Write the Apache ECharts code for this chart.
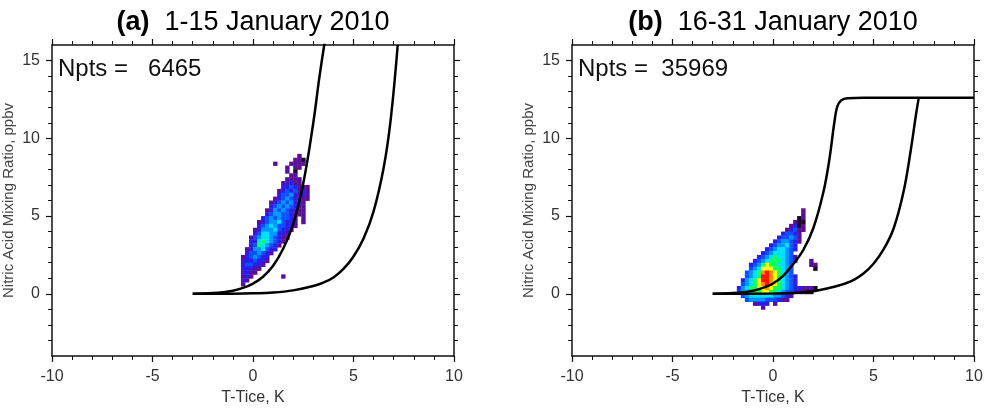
<!DOCTYPE html>
<html>
<head>
<meta charset="utf-8">
<script src="https://cdn.jsdelivr.net/npm/echarts@6/dist/echarts.min.js"></script>
<style>
  html, body { margin: 0; padding: 0; background: #fff; }
  #chart { width: 988px; height: 408px; }
</style>
</head>
<body>
<div id="chart"></div>
<script>
// histogram bin size: K along x, ppbv along y
const binX = 0.2;
const binY = 0.25;

// histogram rows: [row j (y = j*binY), first column k (x = k*binX), colour levels...], 0 = empty cell
const cellsA = [
  [35, 11, [2]],
  [34, 10, [2, 2, 1]],
  [33, 5, [2, 0, 0, 0, 2, 2, 2, 2]],
  [32, 8, [2, 0, 2, 2]],
  [31, 8, [2, 0, 1]],
  [30, 9, [2, 2]],
  [29, 8, [2, 2, 2, 2]],
  [28, 7, [2, 3, 3, 2, 2]],
  [27, 7, [3, 3, 4, 3, 2, 2, 2]],
  [26, 6, [2, 3, 4, 3, 4, 2, 3, 2]],
  [25, 6, [3, 4, 4, 5, 3, 2, 3, 2]],
  [24, 5, [2, 3, 4, 5, 4, 3, 2, 2, 2]],
  [23, 4, [2, 3, 4, 5, 4, 5, 3, 3, 2]],
  [22, 4, [3, 4, 5, 4, 5, 4, 3, 2, 2]],
  [21, 3, [2, 3, 5, 4, 5, 4, 3, 3, 2, 2]],
  [20, 3, [3, 4, 5, 5, 4, 4, 3, 2, 2, 2]],
  [19, 2, [3, 4, 5, 4, 5, 4, 4, 3, 2, 0, 2]],
  [18, 1, [2, 3, 4, 5, 5, 6, 4, 3, 3, 2, 0, 2]],
  [17, 1, [3, 4, 5, 6, 5, 4, 4, 3, 3, 2]],
  [16, 0, [2, 3, 5, 5, 5, 6, 4, 3, 3, 2]],
  [15, 0, [3, 4, 6, 6, 5, 5, 3, 3, 2]],
  [14, -1, [2, 4, 5, 6, 6, 5, 4, 3, 2, 2]],
  [13, -1, [3, 3, 6, 7, 6, 5, 4, 3, 2]],
  [12, -1, [3, 4, 7, 6, 5, 4, 3, 2]],
  [11, -2, [2, 3, 5, 5, 6, 4, 3, 3]],
  [10, -2, [3, 4, 4, 5, 4, 3, 2]],
  [9, -3, [2, 3, 4, 5, 4, 3, 3]],
  [8, -3, [3, 3, 3, 4, 3, 3, 2]],
  [7, -3, [3, 4, 4, 3, 3, 2]],
  [6, -3, [3, 3, 3, 2, 2]],
  [5, -3, [3, 3, 2, 2]],
  [4, -3, [2, 3, 2, 0, 0, 0, 0, 0, 0, 0, 2]],
  [3, -3, [3, 2]],
  [2, -3, [2]]
];

const cellsB = [
  [21, 7, [2]],
  [20, 7, [2]],
  [19, 6, [1, 2]],
  [18, 5, [2, 1, 1]],
  [17, 4, [2, 3, 1, 2]],
  [16, 3, [2, 3, 4, 2, 2]],
  [15, 2, [3, 4, 4, 3, 2]],
  [14, 1, [3, 4, 4, 5, 4, 2]],
  [13, 0, [3, 4, 5, 5, 4, 3, 2]],
  [12, -1, [3, 4, 5, 5, 6, 4, 3]],
  [11, -2, [3, 4, 5, 6, 6, 5, 4, 3]],
  [10, -3, [3, 4, 5, 6, 6, 6, 5, 4]],
  [9, -4, [3, 4, 5, 6, 7, 6, 6, 5, 4, 2]],
  [8, -5, [3, 4, 5, 6, 7, 7, 7, 6, 5, 4, 3, 0, 0, 0, 2]],
  [7, -6, [3, 4, 5, 7, 8, 7, 7, 6, 6, 5, 4, 0, 0, 0, 0, 2, 2]],
  [6, -6, [4, 5, 6, 8, 8, 8, 7, 7, 6, 5, 4, 0, 0, 0, 0, 0, 1]],
  [5, -7, [4, 5, 6, 7, 9, 10, 9, 8, 7, 6, 5, 4]],
  [4, -7, [4, 5, 6, 7, 10, 10, 9, 8, 7, 6, 5, 4, 3]],
  [3, -8, [3, 5, 6, 7, 8, 10, 10, 9, 8, 7, 6, 5, 4, 3]],
  [2, -8, [4, 5, 6, 7, 8, 9, 10, 9, 8, 7, 6, 5, 4, 3]],
  [1, -9, [3, 5, 6, 7, 7, 8, 8, 9, 8, 7, 7, 6, 5, 4, 3, 3, 2, 2, 2, 1]],
  [0, -9, [4, 5, 6, 7, 7, 7, 8, 8, 7, 7, 6, 5, 4, 4, 3, 2, 2, 1, 1]],
  [-1, -8, [4, 5, 6, 6, 6, 6, 6, 6, 5, 5, 4, 3, 2]],
  [-2, -7, [4, 5, 5, 5, 5, 4, 4, 4, 3, 2, 2]],
  [-3, -5, [2, 3, 3, 3, 0, 2]],
  [-4, -3, [2]]
];

// equilibrium curves, [T-Tice, HNO3]
const curveA1 = [[-3, 0], [-2, 0.05], [-1.5, 0.1], [-1, 0.2], [-0.5, 0.38], [0, 0.66], [0.5, 1.1],
  [1, 1.8], [1.5, 2.9], [2, 4.5], [2.5, 7.1], [3, 11.0], [3.3, 13.9], [3.58, 16.3]];
const curveA2 = [[-3, 0], [-1, 0.01], [0, 0.03], [1, 0.08], [2, 0.22], [3, 0.5], [3.5, 0.72],
  [4, 1.05], [4.5, 1.6], [5, 2.4], [5.5, 3.55], [6, 5.3], [6.5, 8.1], [6.85, 11.2], [7.2, 16]];
const curveB1 = [[-3, 0], [-2, 0.05], [-1.5, 0.1], [-1, 0.2], [-0.5, 0.38], [0, 0.66], [0.5, 1.15],
  [1, 1.9], [1.5, 2.8], [2, 4.2], [2.5, 6.5], [2.8, 8.6], [3.05, 11.0], [3.2, 12.05],
  [3.4, 12.45], [3.7, 12.58], [4.5, 12.6], [10, 12.6]];
const curveB2 = [[-3, 0], [0, 0.02], [1, 0.05], [2, 0.16], [3, 0.44], [3.5, 0.62], [4, 0.88],
  [4.5, 1.3], [5, 1.93], [5.5, 2.85], [6, 4.2], [6.5, 6.6], [6.85, 9.2], [7.1, 11.4],
  [7.25, 12.6]];

const panelTags = ['(a)', '(b)'];
const periods = ['1-15 January 2010', '16-31 January 2010'];
const nptsText = ['Npts =   6465', 'Npts =  35969'];
const yLabelValues = [0, 5, 10, 15];
const xName = 'T-Tice, K';
const yName = 'Nitric Acid Mixing Ratio, ppbv';

const FONT = 'Liberation Sans, Arial, Helvetica, sans-serif';
const palette = ['#1c0a24', '#5a0f96', '#2a1ee6', '#0a50ff', '#0096ff', '#00e0ff',
  '#10ff60', '#f8ff00', '#ff8c00', '#ff1000'];

function toCells(rows) {
  const out = [];
  rows.forEach(function (r) {
    r[2].forEach(function (v, i) {
      if (v > 0) out.push([(r[1] + i) * binX, r[0] * binY, v]);
    });
  });
  return out;
}

function xAxisFor(grid, pos) {
  const bottom = pos === 'bottom';
  return {
    type: 'value', gridIndex: grid, position: pos,
    min: -10, max: 10, interval: 5,
    name: bottom ? xName : '', nameLocation: 'middle', nameGap: 32,
    nameTextStyle: { fontSize: 16, color: '#333', fontFamily: FONT },
    axisLine: { show: true, onZero: false, lineStyle: { color: '#111', width: 1.5 } },
    axisTick: { show: true, inside: false, length: 6, lineStyle: { color: '#111', width: 1.2 } },
    minorTick: { show: true, splitNumber: 5, length: 4, lineStyle: { color: '#111', width: 1 } },
    axisLabel: { show: bottom, margin: 13, fontSize: 16, color: '#333', fontFamily: FONT },
    splitLine: { show: false }
  };
}

function yAxisFor(grid, pos) {
  const left = pos === 'left';
  return {
    type: 'value', gridIndex: grid, position: pos,
    min: -4, max: 16, splitNumber: 4, minInterval: 5, maxInterval: 5,
    name: left ? yName : '', nameLocation: 'middle', nameGap: 36, nameRotate: 90,
    nameTextStyle: { fontSize: 15, color: '#444', fontFamily: FONT },
    axisLine: { show: true, onZero: false, lineStyle: { color: '#111', width: 1.5 } },
    axisTick: { show: true, inside: false, length: 6, customValues: yLabelValues,
      lineStyle: { color: '#111', width: 1.2 } },
    minorTick: { show: true, splitNumber: 5, length: 4, lineStyle: { color: '#111', width: 1 } },
    axisLabel: { show: left, margin: 12, fontSize: 16, color: '#333', fontFamily: FONT,
      customValues: yLabelValues },
    splitLine: { show: false }
  };
}

function cellSeries(rows, axis) {
  return {
    type: 'custom', xAxisIndex: axis, yAxisIndex: axis, z: 1,
    encode: { x: 0, y: 1 },
    data: toCells(rows),
    renderItem: function (params, api) {
      const p = api.coord([api.value(0), api.value(1) + binY]);
      const s = api.size([binX, binY]);
      return {
        type: 'rect',
        shape: { x: p[0], y: p[1], width: s[0] + 0.4, height: s[1] + 0.4 },
        style: { fill: api.visual('color') }
      };
    }
  };
}

function curveSeries(data, axis) {
  return {
    type: 'line', xAxisIndex: axis, yAxisIndex: axis, z: 3,
    data: data, smooth: 0.4, showSymbol: false, clip: true,
    lineStyle: { color: '#000', width: 2.5 }
  };
}

const grids = [
  { left: 52, top: 45, width: 402, height: 311, outerBoundsMode: 'none' },
  { left: 572, top: 45, width: 402, height: 311, outerBoundsMode: 'none' }
];
const centers = [253, 773];

const graphics = [];
for (let i = 0; i < 2; i++) {
  graphics.push({
    type: 'text', x: centers[i], y: 23,
    style: {
      text: '{b|' + panelTags[i] + '}  ' + periods[i],
      align: 'center', verticalAlign: 'middle',
      fontSize: 27, fontFamily: FONT, fill: '#000',
      rich: { b: { fontSize: 27, fontWeight: 'bold', fontFamily: FONT, fill: '#000' } }
    }
  });
  graphics.push({
    type: 'text', x: grids[i].left + 6, y: 69,
    style: { text: nptsText[i], align: 'left', verticalAlign: 'middle',
      fontSize: 24, fontFamily: FONT, fill: '#111' }
  });
}

const chart = echarts.init(document.getElementById('chart'), null, { renderer: 'canvas' });
chart.setOption({
  backgroundColor: '#fff',
  animation: false,
  grid: grids,
  xAxis: [xAxisFor(0, 'bottom'), xAxisFor(0, 'top'), xAxisFor(1, 'bottom'), xAxisFor(1, 'top')],
  yAxis: [yAxisFor(0, 'left'), yAxisFor(0, 'right'), yAxisFor(1, 'left'), yAxisFor(1, 'right')],
  visualMap: {
    show: false, type: 'continuous', min: 1, max: 10, dimension: 2, seriesIndex: [0, 1],
    inRange: { color: palette }
  },
  graphic: graphics,
  series: [
    cellSeries(cellsA, 0),
    cellSeries(cellsB, 2),
    curveSeries(curveA1, 0),
    curveSeries(curveA2, 0),
    curveSeries(curveB1, 2),
    curveSeries(curveB2, 2)
  ]
});
</script>
</body>
</html>
